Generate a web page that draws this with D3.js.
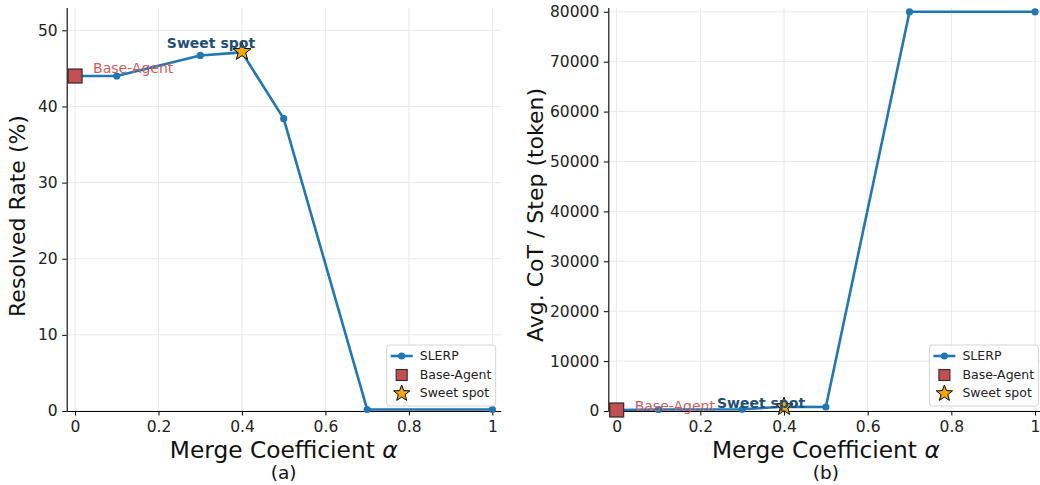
<!DOCTYPE html>
<html><head><meta charset="utf-8">
<script src="https://cdn.jsdelivr.net/npm/d3@7"></script>
<style>
body{margin:0;background:#fff;}
text{font-family:"DejaVu Sans",sans-serif;}
</style></head>
<body><svg id="c" width="1040" height="485"></svg>
<script>
const alphas = [0, 0.1, 0.3, 0.4, 0.5, 0.7, 1.0];
const resolvedRate = [44.0, 44.0, 46.7, 47.1, 38.4, 0.2, 0.2];
const cotPerStep = [200, 300, 350, 850, 800, 80000, 80000];
const baseAgent = {rate: 44.0, cot: 200, alpha: 0};
const sweetSpot = {rate: 47.2, cot: 850, alpha: 0.4};
const xTicks = [0, 0.2, 0.4, 0.6, 0.8, 1];
const yTicksA = [0, 10, 20, 30, 40, 50];
const yTicksB = [0, 10000, 20000, 30000, 40000, 50000, 60000, 70000, 80000];
const legendLabels = ["SLERP", "Base-Agent", "Sweet spot"];

const svg = d3.select("#c");
const blue = "#1f77b4", red = "#c44e52", darkBlue = "#1f4e79", gold = "#f5a800";

function star(cx, cy, R) {
  const r = R * 0.42, pts = [];
  for (let i = 0; i < 10; i++) {
    const a = -Math.PI / 2 + i * Math.PI / 5, rr = i % 2 ? r : R;
    pts.push([cx + rr * Math.cos(a), cy + rr * Math.sin(a)]);
  }
  return "M" + pts.map(p => p.join(",")).join("L") + "Z";
}

function panel(cfg) {
  const g = svg.append("g");
  const x = d3.scaleLinear().domain([-0.02, 1.02]).range(cfg.xr);
  const y = d3.scaleLinear().domain(cfg.yd).range([411, 7.5]);
  // grid
  g.selectAll(".gx").data(xTicks).enter().append("line")
    .attr("x1", d => x(d)).attr("x2", d => x(d)).attr("y1", y.range()[0]).attr("y2", y.range()[1])
    .attr("stroke", "#e8e8e8").attr("stroke-width", 1);
  g.selectAll(".gy").data(cfg.yt).enter().append("line")
    .attr("x1", cfg.xr[0]).attr("x2", cfg.xr[1]).attr("y1", d => y(d)).attr("y2", d => y(d))
    .attr("stroke", "#e8e8e8").attr("stroke-width", 1);
  // axes
  const xa = g.append("g").attr("transform", `translate(0,411)`)
    .call(d3.axisBottom(x).tickValues(xTicks).tickFormat(d => d3.format("~g")(d)).tickSize(4.5).tickSizeOuter(0));
  const ya = g.append("g").attr("transform", `translate(${cfg.xr[0]},0)`)
    .call(d3.axisLeft(y).tickValues(cfg.yt).tickFormat(d => d).tickSize(4.5).tickSizeOuter(0));
  [xa, ya].forEach(a => {
    a.select(".domain").attr("stroke", "#000").attr("stroke-width", 1.1);
    a.selectAll(".tick line").attr("stroke", "#000").attr("stroke-width", 1);
    a.selectAll(".tick text").attr("font-family", "DejaVu Sans").attr("font-size", 15.5).attr("fill", "#222");
  });
  xa.selectAll(".tick text").attr("dy", "0.95em").attr("y", 6);
  ya.selectAll(".tick text").attr("x", -9);
  // line
  const data = alphas.map((a, i) => [a, cfg.vals[i]]);
  g.append("path").datum(data)
    .attr("d", d3.line().x(d => x(d[0])).y(d => y(d[1])))
    .attr("fill", "none").attr("stroke", blue).attr("stroke-width", 2.6).attr("stroke-linejoin", "round");
  g.selectAll(".pt").data(data).enter().append("circle")
    .attr("cx", d => x(d[0])).attr("cy", d => y(d[1])).attr("r", 3.6).attr("fill", blue);
  // base agent square
  const bx = x(baseAgent.alpha), by = y(cfg.base);
  g.append("rect").attr("x", bx - 7).attr("y", by - 7).attr("width", 14).attr("height", 14)
    .attr("fill", red).attr("stroke", "#2b2b2b").attr("stroke-width", 1.2);
  // sweet spot star
  const sx = x(sweetSpot.alpha), sy = y(cfg.sweet);
  g.append("path").attr("d", star(sx, sy, 9.5)).attr("fill", gold).attr("stroke", "#000").attr("stroke-width", 1);
  // annotations
  g.append("text").attr("x", bx + 18).attr("y", by + cfg.baseDy).attr("font-size", 14)
    .attr("fill", "#cd5c5c").text("Base-Agent");
  g.append("text").attr("x", sx + cfg.sweetDx).attr("y", sy + cfg.sweetDy).attr("font-size", 14).attr("font-weight", "bold")
    .attr("text-anchor", "middle").attr("fill", darkBlue).text("Sweet spot");
  // axis titles
  const cx = (cfg.xr[0] + cfg.xr[1]) / 2;
  const t = g.append("text").attr("x", cx).attr("y", 458).attr("text-anchor", "middle").attr("font-size", 23.3).attr("fill", "#111");
  t.append("tspan").text("Merge Coefficient ");
  t.append("tspan").attr("font-style", "italic").text("α");
  g.append("text").attr("x", cx).attr("y", 479).attr("text-anchor", "middle").attr("font-size", 18.5).attr("fill", "#111").text(cfg.sub);
  g.append("text").attr("transform", `translate(${cfg.ylx},${cfg.yly}) rotate(-90)`)
    .attr("text-anchor", "middle").attr("font-size", 22).attr("fill", "#111").text(cfg.ylabel);
  // legend
  const lx = cfg.xr[1] - 114, ly = 345;
  const lg = g.append("g").attr("transform", `translate(${lx},${ly})`);
  lg.append("rect").attr("x", 0).attr("y", 0).attr("width", 109).attr("height", 61).attr("rx", 3)
    .attr("fill", "#fff").attr("fill-opacity", 0.85).attr("stroke", "#d5d5d5").attr("stroke-width", 1);
  const rows = [11, 30, 48];
  lg.append("line").attr("x1", 4).attr("x2", 26).attr("y1", rows[0]).attr("y2", rows[0]).attr("stroke", blue).attr("stroke-width", 2.6);
  lg.append("circle").attr("cx", 15).attr("cy", rows[0]).attr("r", 3.6).attr("fill", blue);
  lg.append("rect").attr("x", 9.5).attr("y", rows[1] - 5.5).attr("width", 11).attr("height", 11)
    .attr("fill", red).attr("stroke", "#2b2b2b").attr("stroke-width", 1.1);
  lg.append("path").attr("d", star(15, rows[2] + 0.5, 8.5)).attr("fill", gold).attr("stroke", "#000").attr("stroke-width", 1);
  legendLabels.forEach((l, i) => {
    lg.append("text").attr("x", 33).attr("y", rows[i]).attr("dy", "0.35em").attr("font-size", 12.5).attr("fill", "#222").text(l);
  });
}

panel({xr: [66.7, 500.7], yd: [0, 53], yt: yTicksA, vals: resolvedRate, base: baseAgent.rate, sweet: sweetSpot.rate,
  baseDy: -3, sweetDx: -31, sweetDy: -4, ylabel: "Resolved Rate (%)", ylx: 25, yly: 216, sub: "(a)"});
panel({xr: [608.3, 1043.4], yd: [0, 80860], yt: yTicksB, vals: cotPerStep, base: baseAgent.cot, sweet: sweetSpot.cot,
  baseDy: 1, sweetDx: -23, sweetDy: 1, ylabel: "Avg. CoT / Step (token)", ylx: 543, yly: 215, sub: "(b)"});
</script></body></html>
